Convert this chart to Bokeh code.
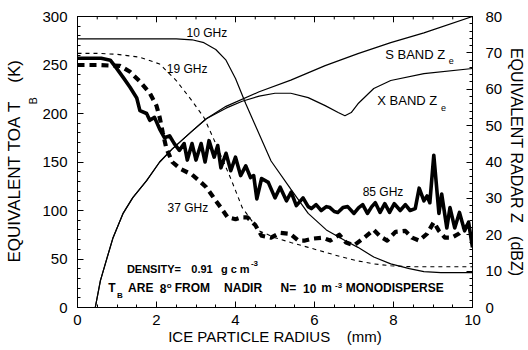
from bokeh.plotting import figure
from bokeh.models import Range1d, LinearAxis, SingleIntervalTicker, Label, Title
from bokeh.embed import file_html
from bokeh.resources import INLINE

# ---- data ----
radius_10 = [0.0, 0.5, 1.0, 1.5, 2.0, 2.5, 2.9, 3.2, 3.5, 3.76, 4.0, 4.26, 4.5, 4.9, 5.4, 5.84, 6.3, 6.77, 7.1, 7.5, 7.93, 8.4, 8.77, 9.2, 10.0]
tb_10 = [277, 277, 277, 277, 277, 277, 276, 273, 266, 255, 236, 210, 188, 151, 122, 97, 80, 69, 62, 52, 45, 40, 37, 36, 36]

radius_19 = [0.0, 0.5, 1.0, 1.58, 2.08, 2.5, 2.9, 3.2, 3.5, 3.9, 4.17, 4.6, 5.0, 5.4, 5.84, 6.27, 6.7, 7.1, 7.5, 7.93, 8.5, 9.0, 10.0]
tb_19 = [262, 262, 261, 258, 251, 234, 213, 196, 169, 131, 103, 79, 72, 67, 62, 57, 52, 48, 45, 43, 42, 42, 42]

radius_85 = [0.0, 0.3, 0.6, 0.83, 1.0, 1.16, 1.33, 1.5, 1.58, 1.75, 1.83, 1.95, 2.08, 2.2, 2.33, 2.45, 2.58, 2.7, 2.78, 2.9,
             3.0, 3.13, 3.23, 3.33, 3.46, 3.55, 3.63, 3.76, 3.88, 4.0, 4.13, 4.26, 4.38, 4.46, 4.54, 4.66, 4.83, 5.0, 5.13, 5.29,
             5.41, 5.54, 5.71, 5.84, 5.92, 6.04, 6.17, 6.3, 6.39, 6.5, 6.59, 6.72, 6.84, 7.0, 7.12, 7.22, 7.34, 7.45, 7.54, 7.66,
             7.78, 7.9, 8.02, 8.17, 8.3, 8.42, 8.55, 8.65, 8.77, 8.85, 8.92, 9.02, 9.15, 9.22, 9.35, 9.43, 9.55, 9.67, 9.8, 9.9, 10.0]
tb_85 = [257, 257, 257, 255, 246, 237, 227, 216, 203, 200, 193, 196, 184, 175, 177, 169, 162, 169, 152, 169,
         152, 169, 150, 172, 155, 167, 144, 159, 141, 155, 136, 146, 134, 136, 112, 133, 129, 113, 124, 110,
         119, 105, 113, 104, 102, 106, 100, 104, 103, 99, 98, 103, 104, 97, 103, 106, 97, 104, 108, 98,
         107, 98, 107, 100, 106, 100, 102, 123, 110, 115, 108, 157, 97, 117, 82, 103, 82, 98, 79, 88, 62]

radius_37 = [0.0, 0.5, 1.08, 1.33, 1.58, 1.83, 2.0, 2.08, 2.16, 2.25, 2.4, 2.6, 2.9, 3.1, 3.26, 3.4, 3.5, 3.63, 3.8, 4.0,
             4.15, 4.3, 4.5, 4.66, 4.9, 5.13, 5.38, 5.59, 5.76, 5.96, 6.2, 6.4, 6.63, 6.8, 7.0, 7.26, 7.5, 7.67, 7.84, 8.05,
             8.3, 8.47, 8.65, 8.85, 9.02, 9.15, 9.3, 9.47, 9.65, 9.8, 10.0]
tb_37 = [250, 250, 249, 243, 233, 221, 208, 196, 180, 164, 150, 143, 137, 130, 124, 116, 110, 103, 93, 91,
         93, 93, 85, 74, 72, 77, 76, 69, 69, 71, 72, 69, 75, 67, 64, 72, 80, 73, 69, 78,
         79, 72, 69, 76, 88, 79, 72, 72, 76, 82, 88]

radius_s = [0.45, 0.58, 0.75, 0.9, 1.15, 1.4, 1.75, 2.08, 2.4, 2.9, 3.26, 3.76, 4.6, 5.4, 6.27, 7.1, 7.93, 8.77, 10.0]
ze_s = [0, 7.4, 13.7, 19.2, 25.8, 30.2, 34.9, 40.0, 43.6, 48.5, 51.9, 55.3, 59.3, 62.5, 66.5, 69.8, 72.8, 75.5, 80.0]

radius_x = [0.45, 0.58, 0.75, 0.9, 1.15, 1.4, 1.75, 2.08, 2.4, 2.9, 3.26, 3.76, 4.17, 4.6, 5.0, 5.4, 5.84, 6.27, 6.6, 6.77,
            6.93, 7.1, 7.5, 7.93, 8.77, 10.0]
ze_x = [0, 7.4, 13.7, 19.2, 25.8, 30.2, 34.9, 40.0, 43.6, 48.5, 51.9, 54.8, 56.7, 58.1, 58.9, 58.9, 57.7, 55.5, 53.6, 52.7,
        53.6, 56.0, 60.2, 62.4, 64.3, 65.7]

x_major_ticks = [0, 2, 4, 6, 8, 10]
x_minor_ticks = [0.5, 1, 1.5, 2.5, 3, 3.5, 4.5, 5, 5.5, 6.5, 7, 7.5, 8.5, 9, 9.5]

FONT = "Liberation Sans"
NB = "\u00a0"

p = figure(width=528, height=350, output_backend="svg", toolbar_location=None,
           x_range=Range1d(0, 10), y_range=Range1d(0, 300),
           min_border_left=77, min_border_right=52, min_border_top=16, min_border_bottom=43,
           background_fill_color="white", border_fill_color="white")
p.extra_y_ranges = {"dbz": Range1d(0, 80)}
p.xgrid.visible = False
p.ygrid.visible = False
p.outline_line_color = "black"
p.outline_line_width = 1


def style(ax, size="15px"):
    ax.axis_line_color = "black"
    ax.axis_line_width = 1
    ax.major_tick_line_color = "black"
    ax.minor_tick_line_color = "black"
    ax.major_tick_in = 6
    ax.major_tick_out = 0
    ax.minor_tick_in = 3
    ax.minor_tick_out = 0
    ax.major_label_text_font = FONT
    ax.major_label_text_font_size = size
    ax.major_label_text_color = "black"
    ax.axis_label_text_font = FONT
    ax.axis_label_text_font_size = "15px"
    ax.axis_label_text_font_style = "normal"
    ax.axis_label_text_color = "black"


xax = p.xaxis[0]
xax.ticker = SingleIntervalTicker(interval=2, num_minor_ticks=4)
style(xax)
xax.major_label_standoff = 7
xax.axis_label = "ICE PARTICLE RADIUS" + NB * 4 + "(mm)"
xax.axis_label_standoff = 0

yax = p.yaxis[0]
yax.ticker = SingleIntervalTicker(interval=50, num_minor_ticks=5)
style(yax)
yax.major_label_standoff = 10
# the subscript "B" of the left title sits in the axis-label slot, pushed up next to the "T"
yax.axis_label = NB * 40 + "B"
yax.axis_label_text_font_size = "11px"
yax.axis_label_standoff = 0

right = LinearAxis(y_range_name="dbz", ticker=SingleIntervalTicker(interval=10, num_minor_ticks=5))
style(right)
right.major_label_standoff = 13
right.axis_label = "EQUIVALENT" + NB + "RADAR" + NB + "Z" + NB * 3 + "(dBZ)"
right.axis_label_text_font_size = "16px"
right.axis_label_standoff = 3
p.add_layout(right, "right")

main_title = Title(text="EQUIVALENT" + NB + "TOA" + NB + "T" + NB * 4 + "(K)", align="left", offset=45, standoff=0,
                   vertical_align="middle", text_font=FONT, text_font_size="17px", text_font_style="normal",
                   text_color="black")
p.add_layout(main_title, "left")

# inward ticks along the top edge of the frame
p.segment(x0=x_major_ticks, y0=[300] * len(x_major_ticks), x1=x_major_ticks, y1=[294] * len(x_major_ticks),
          line_color="black", line_width=1)
p.segment(x0=x_minor_ticks, y0=[300] * len(x_minor_ticks), x1=x_minor_ticks, y1=[297] * len(x_minor_ticks),
          line_color="black", line_width=1)

# ---- curves ----
p.line(radius_10, tb_10, line_color="black", line_width=1.2)
p.line(radius_19, tb_19, line_color="black", line_width=1.1, line_dash="4 4")
p.line(radius_85, tb_85, line_color="black", line_width=3.6, line_join="round")
p.line(radius_37, tb_37, line_color="black", line_width=4.2, line_dash="7 5", line_join="round")
p.line(radius_s, ze_s, line_color="black", line_width=1.2, y_range_name="dbz")
p.line(radius_x, ze_x, line_color="black", line_width=1.2, y_range_name="dbz")


def lab(x, y, text, size=12, bold=False):
    p.add_layout(Label(x=x, y=y, text=text, text_font=FONT, text_font_size=f"{size}px",
                       text_font_style="bold" if bold else "normal", text_color="black",
                       text_align="left", text_baseline="middle"))


# curve labels
lab(2.76, 283, "10 GHz")
lab(2.26, 246, "19 GHz")
lab(7.79, 261, "S BAND Z", 13)
lab(9.40, 254, "e", 9)
lab(7.59, 213, "X BAND Z", 13)
lab(9.20, 206, "e", 9)
lab(7.22, 119, "85 GHz")
lab(2.28, 103, "37 GHz")

# notes
lab(1.25, 40.2, "DENSITY=", 11, True)
lab(2.88, 40.2, "0.91", 11, True)
lab(3.63, 40.2, "g c m", 11, True)
lab(4.39, 45.4, "-3", 8, True)

lab(0.78, 19.6, "T", 12, True)
lab(1.00, 12.4, "B", 8, True)
lab(1.28, 19.6, "ARE", 12, True)
lab(2.08, 19.6, "8", 12, True)
lab(2.26, 22.7, "o", 8, True)
lab(2.46, 19.6, "FROM", 12, True)
lab(3.71, 19.6, "NADIR", 12, True)
lab(5.14, 19.6, "N=", 12, True)
lab(5.71, 19.6, "10", 12, True)
lab(6.17, 19.6, "m", 12, True)
lab(6.52, 22.7, "-3", 8, True)
lab(6.79, 19.6, "MONODISPERSE", 12, True)

open("out.html", "w").write(file_html(p, INLINE))
